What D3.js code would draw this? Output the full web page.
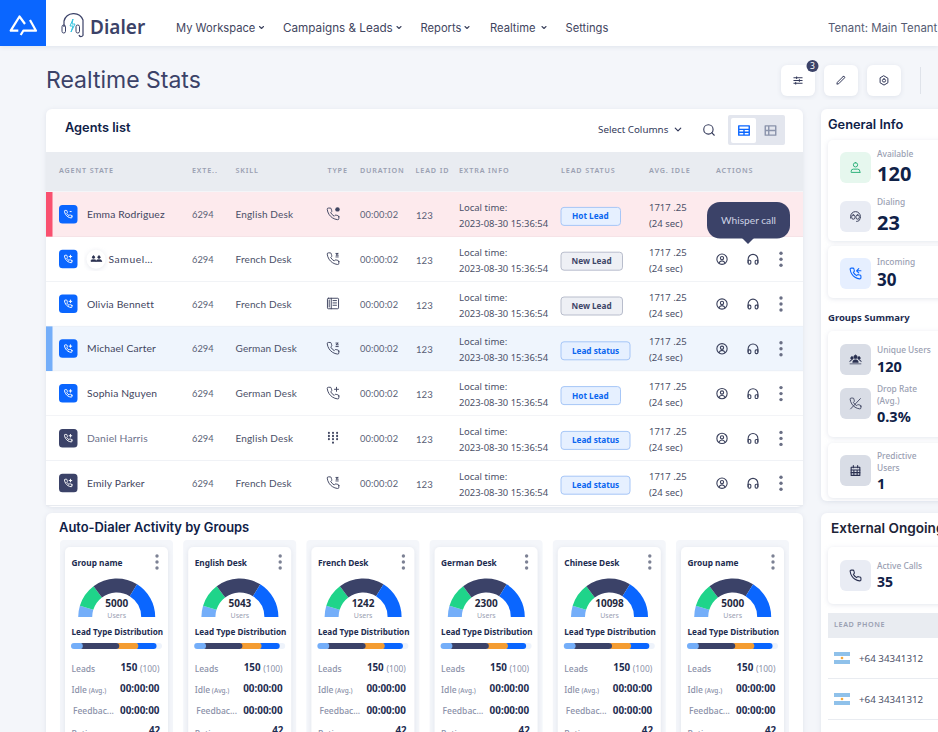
<!DOCTYPE html>
<html>
<head>
<meta charset="utf-8">
<script src="https://cdnjs.cloudflare.com/ajax/libs/d3/7.8.5/d3.min.js"></script>
<style>
body { margin:0; background:#f4f6fa; overflow:hidden; }
svg { display:block; }
</style>
</head>
<body>
<script>
// table data
var agentNames = ["Emma Rodriguez","Samuel…","Olivia Bennett","Michael Carter","Sophia Nguyen","Daniel Harris","Emily Parker"];
var agentExt = ["6294","6294","6294","6294","6294","6294","6294"];
var agentSkills = ["English Desk","French Desk","French Desk","German Desk","German Desk","English Desk","French Desk"];
var agentTypes = ["phoneDot","phoneZ","fax","phoneZ","phonePlus","keypad","phoneZ"];
var durations = ["00:00:02","00:00:02","00:00:02","00:00:02","00:00:02","00:00:02","00:00:02"];
var leadIds = ["123","123","123","123","123","123","123"];
var leadTimes = ["2023-08-30 15:36:54","2023-08-30 15:36:54","2023-08-30 15:36:54","2023-08-30 15:36:54","2023-08-30 15:36:54","2023-08-30 15:36:54","2023-08-30 15:36:54"];
var leadStatus = ["Hot Lead","New Lead","New Lead","Lead status","Hot Lead","Lead status","Lead status"];
var avgIdle = ["1717 .25","1717 .25","1717 .25","1717 .25","1717 .25","1717 .25","1717 .25"];
var avgIdleSec = ["(24 sec)","(24 sec)","(24 sec)","(24 sec)","(24 sec)","(24 sec)","(24 sec)"];

var headerLabels = ["AGENT STATE","EXTE..","SKILL","TYPE","DURATION","LEAD ID","EXTRA INFO","LEAD STATUS","AVG. IDLE","ACTIONS"];
var navLabels = ["My Workspace","Campaigns & Leads","Reports","Realtime","Settings"];

// group cards
var groupNames = ["Group name","English Desk","French Desk","German Desk","Chinese Desk","Group name"];
var groupUsers = [5000,5043,1242,2300,10098,5000];
var gaugeShares = [17,36,69,58];
var leadTypeShares = [13,40,21,20];
var groupLeads = [150,150,150,150,150,150];
var groupLeadsMax = [100,100,100,100,100,100];
var groupIdle = ["00:00:00","00:00:00","00:00:00","00:00:00","00:00:00","00:00:00"];
var groupFeedback = ["00:00:00","00:00:00","00:00:00","00:00:00","00:00:00","00:00:00"];
var groupRatio = [42,42,42,42,42,42];

var navy = "#3b4268", ink = "#0f2147", body = "#3f4560", grey = "#9aa0b2", blue = "#0a66ff";
var headFont = "Inter, sans-serif", nameFont = "Lato, sans-serif", plexFont = "'Noto Sans', sans-serif";

var handset = "M22 16.92v3a2 2 0 0 1-2.18 2 19.79 19.79 0 0 1-8.63-3.07 19.5 19.5 0 0 1-6-6 19.79 19.79 0 0 1-3.07-8.67A2 2 0 0 1 4.11 2h3a2 2 0 0 1 2 1.72 12.84 12.84 0 0 0 .7 2.81 2 2 0 0 1-.45 2.11L8.09 9.91a16 16 0 0 0 6 6l1.27-1.27a2 2 0 0 1 2.11-.45 12.84 12.84 0 0 0 2.81.7A2 2 0 0 1 22 16.92z";
var iconPaths = {
  phone: [handset],
  phonePlus: [handset,"M18 2v7M14.5 5.5h7"],
  phoneZ: [handset,"M17 3h4l-4 3h4M17 9h4"],
  phoneDot: [handset,"M17 5h3"],
  phoneIn: [handset,"M22 7h-7M18 3l-4 4 4 4"],
  phoneSlash: [handset,"M3 22L21 3"],
  fax: ["M4 3h16a1.5 1.5 0 0 1 1.5 1.5v15a1.5 1.5 0 0 1-1.5 1.5H4a1.5 1.5 0 0 1-1.5-1.5v-15A1.5 1.5 0 0 1 4 3z","M9 3v18M5.5 6v12M12 7h6M12 11h6M12 15h6"],
  keypad: ["M5 3v.5M12 3v.5M19 3v.5M5 8.5V9M12 8.5V9M19 8.5V9M5 14v.5M12 14v.5M19 14v.5M12 20v.5"],
  user: ["M12 2.5a9.5 9.5 0 1 0 0 19 9.5 9.5 0 0 0 0-19z","M12 7a3 3 0 1 0 0 6 3 3 0 0 0 0-6z","M6.5 19c1-3 3-4 5.5-4s4.5 1 5.5 4"],
  person: ["M20 21v-2a4 4 0 0 0-4-4H8a4 4 0 0 0-4 4v2H20z","M12 3a4 4 0 1 0 0 8 4 4 0 0 0 0-8z"],
  people: ["M12 4a3.2 3.2 0 1 0 0 6.4 3.2 3.2 0 0 0 0-6.4zM5.5 7a2.4 2.4 0 1 0 0 4.8 2.4 2.4 0 0 0 0-4.8zM18.5 7a2.4 2.4 0 1 0 0 4.8 2.4 2.4 0 0 0 0-4.8z","M7 17c0-3 2-4.5 5-4.5s5 1.5 5 4.5zM1.5 16c0-2.2 1.5-3.3 3.8-3.3M22.5 16c0-2.2-1.5-3.3-3.8-3.3","M2 20h20"],
  calendar: ["M4 6h16v15H4zM8 3v4M16 3v4","M4 11h16M9 11v10M15 11v10M4 16h16"],
  headphones: ["M3 18v-6a9 9 0 0 1 18 0v6","M21 19a2 2 0 0 1-2 2h-1a2 2 0 0 1-2-2v-3a2 2 0 0 1 2-2h3zM3 19a2 2 0 0 0 2 2h1a2 2 0 0 0 2-2v-3a2 2 0 0 0-2-2H3z"],
  headset: ["M3 15v-3a9 9 0 0 1 18 0v3","M8 9a3 3 0 0 0-3 3v2a3 3 0 0 0 6 0v-2A3 3 0 0 0 8 9zM16 9a3 3 0 0 0-3 3v2a3 3 0 0 0 6 0v-2a3 3 0 0 0-3-3z","M20 17c0 2.5-2.5 4-6 4"],
  search: ["M11 3a8 8 0 1 0 0 16 8 8 0 0 0 0-16z","M21 21l-4.35-4.35"],
  sliders: ["M3 6h18M3 12h18M3 18h18","M9 4v4M15 10v4M7 16v4"],
  pencil: ["M16.5 3.5a2.12 2.12 0 0 1 3 3L7 19l-4 1 1-4L16.5 3.5z"],
  gear: ["M12 2l8.5 5v10L12 22l-8.5-5V7z","M12 8.5a3.5 3.5 0 1 0 0 7 3.5 3.5 0 0 0 0-7z"],
  chevron: ["M6 9l6 6 6-6"],
  grid: ["M3 4h18v16H3zM3 10h18M3 15h18M12 10v10"],
  rows: ["M3 4h18v16H3zM3 12h18M9 4v16"]
};

var svg = d3.select("body").append("svg").attr("width",938).attr("height",732);

var defs = svg.append("defs");
var soft = defs.append("filter").attr("id","soft").attr("x","-10%").attr("y","-10%").attr("width","120%").attr("height","120%");
soft.append("feDropShadow").attr("dx",0).attr("dy",1).attr("stdDeviation",2.5).attr("flood-color","#c3cad8").attr("flood-opacity",0.45);

function addText(parent, x, y, str, size, color, weight, font, anchor) {
  return parent.append("text").attr("x",x).attr("y",y).text(str)
    .attr("font-size",size).attr("fill",color)
    .attr("font-weight",weight || 400)
    .attr("font-family",font || plexFont)
    .attr("text-anchor",anchor || "start");
}
function addIcon(parent, name, cx, cy, size, color, width, fill) {
  var k = size/24;
  var g = parent.append("g").attr("transform","translate("+(cx-size/2)+","+(cy-size/2)+") scale("+k+")");
  iconPaths[name].forEach(function(d){
    g.append("path").attr("d",d).attr("fill",fill || "none").attr("stroke",color)
      .attr("stroke-width",(width || 1.1)/k).attr("stroke-linecap","round").attr("stroke-linejoin","round");
  });
  return g;
}
function addBox(parent, x, y, w, h, r, fill, shadow) {
  var b = parent.append("rect").attr("x",x).attr("y",y).attr("width",w).attr("height",h).attr("rx",r).attr("fill",fill);
  if (shadow) b.attr("filter","url(#soft)");
  return b;
}
function addDots(parent, cx, cy, gap, r, color) {
  [-1,0,1].forEach(function(i){
    parent.append("circle").attr("cx",cx).attr("cy",cy+i*gap).attr("r",r).attr("fill",color);
  });
}

/* ---------- top bar ---------- */
addBox(svg,0,0,938,46,0,"#fff",true);
addBox(svg,0,0,46,46,0,blue);
svg.append("path").attr("d","M25 24L19.5 16.5L10.7 30.7H18.3M30 20L36 30.7H23.3L20.7 35")
  .attr("fill","none").attr("stroke","#fff").attr("stroke-width",2.2).attr("stroke-linejoin","round");

var headset = svg.append("g");
headset.append("path").attr("d","M64 27v-6a10 10 0 0 1 19 -1v14a2 2 0 0 1-4 1").attr("fill","none").attr("stroke",navy).attr("stroke-width",1.2);
headset.append("rect").attr("x",62).attr("y",25).attr("width",3.5).attr("height",8).attr("rx",1.7).attr("fill","none").attr("stroke",navy);
headset.append("rect").attr("x",76).attr("y",25).attr("width",3.5).attr("height",8).attr("rx",1.7).attr("fill","none").attr("stroke",navy);
headset.append("path").attr("d","M73 19l-3 7h3l-2 6 4-8h-3z").attr("fill","none").attr("stroke","#35c4e0").attr("stroke-width",1);
addText(svg,90,33.5,"Dialer",19,navy,600,plexFont);

var navX = [176,283,420.5,490,565.5];
var navChevron = [261.5,399,467,544,null];
var navSize = [11.2,11.7,11.2,11.2,11.2];
navLabels.forEach(function(d,i){
  addText(svg,navX[i],31.5,d,navSize[i],body,400,headFont);
  if (navChevron[i]) addIcon(svg,"chevron",navChevron[i],27.5,8,body,1.1);
});
addText(svg,828,31.5,"Tenant: Main Tenant",11.4,"#555b73",400,headFont);

addText(svg,46,88,"Realtime Stats",23,navy,400,headFont);

[[781,"sliders"],[824,"pencil"],[867,"gear"]].forEach(function(b){
  addBox(svg,b[0],65,34,31,6,"#fff",true);
  addIcon(svg,b[1],b[0]+17,80.5,11,"#33395a",1);
});
svg.append("circle").attr("cx",812.5).attr("cy",66).attr("r",6).attr("fill",navy);
addText(svg,812.5,69,"3",8.5,"#fff",400,plexFont,"middle");
svg.append("line").attr("x1",920.5).attr("x2",920.5).attr("y1",67).attr("y2",94).attr("stroke","#dfe3ea");

/* ---------- agents panel ---------- */
addBox(svg,46,109,757,398,6,"#fff",true);
addText(svg,65,132,"Agents list",12.8,ink,600,headFont);
addText(svg,598,133,"Select Columns",9.8,"#33395a",400,plexFont);
addIcon(svg,"chevron",678,129.5,11,"#33395a",1.2);
addIcon(svg,"search",709,130,14,"#33395a",1.1);
addBox(svg,728,115,57,30,2,"#e3e6ee");
addBox(svg,731,118,25,25,2,"#fff");
addIcon(svg,"grid",744,130.5,14,blue,1.4);
addIcon(svg,"rows",770.5,130.5,14,"#8a93ab",1.4);

svg.append("rect").attr("x",46).attr("y",152).attr("width",757).attr("height",39.5).attr("fill","#e9ecf1");
var headerX = [59,192,235.5,327.5,360,415.5,459,561,649,716];
headerLabels.forEach(function(d,i){
  addText(svg,headerX[i],172.5,d,7.2,grey,600,plexFont).attr("letter-spacing",0.85);
});

var rowY = d3.scaleLinear().domain([0,6]).range([214.4,483.2]);
var rowH = 44.8;
var rowFill = {0:"#fdeaed",3:"#eff5fd"};
var rowBar = {0:"#f9506f",3:"#74aef9"};

function badgeStyle(s) {
  if (s == "New Lead") return {fill:"#eef0f5",stroke:"#b8bdcc",text:"#3e4668",w:61.5};
  if (s == "Hot Lead") return {fill:"#e6f0ff",stroke:"#a6c6f7",text:"#0a66f0",w:59.5};
  return {fill:"#e6f0ff",stroke:"#a6c6f7",text:"#0a66f0",w:69};
}

var rows = svg.selectAll("g.row").data(agentNames).enter().append("g").attr("class","row")
  .attr("transform",function(d,i){ return "translate(0,"+rowY(i)+")"; });

rows.each(function(d,i){
  var g = d3.select(this);
  g.append("rect").attr("x",46).attr("y",-rowH/2).attr("width",757).attr("height",rowH).attr("fill",rowFill[i] || "#fff");
  g.append("line").attr("x1",46).attr("x2",803).attr("y1",rowH/2).attr("y2",rowH/2)
    .attr("stroke",i==0 ? "#f0d4da" : "#e6e9ef").attr("stroke-width",1);
  if (rowBar[i]) g.append("rect").attr("x",46).attr("y",-rowH/2).attr("width",6.5).attr("height",rowH).attr("fill",rowBar[i]);

  addBox(g,59,-9.5,18.5,18.5,3.5,i>=5 ? navy : blue);
  addIcon(g,i==0 ? "phoneDot" : "phonePlus",68.2,-0.2,9,"#fff",1);

  var nameX = 87, nameColor = i==5 ? "#6b7089" : body;
  if (i==1) {
    g.append("circle").attr("cx",96).attr("cy",0).attr("r",9.5).attr("fill","#fff").attr("filter","url(#soft)");
    addIcon(g,"person",93.5,-0.5,7.5,"#2a3050",0.6,"#2a3050");
    addIcon(g,"person",99,-0.5,7.5,"#2a3050",0.6,"#2a3050");
    nameX = 108.5;
  }
  addText(g,nameX,3.6,d,10.3,nameColor,400,nameFont).attr("letter-spacing",i==1 ? 0.6 : 0.15);
  addText(g,192,3.5,agentExt[i],9.3,"#5a5f76",400,nameFont);
  addText(g,235.5,3.5,agentSkills[i],10,"#4b5068",400,nameFont).attr("letter-spacing",0.15);
  addIcon(g,agentTypes[i],333,-0.5,14,"#3f4560",agentTypes[i]=="keypad" ? 2 : 0.95);
  if (i==0) g.append("circle").attr("cx",337.5).attr("cy",-5).attr("r",2.2).attr("fill","#3f4560");
  addText(g,360,3.5,durations[i],9.3,"#5a5f76",400,nameFont).attr("letter-spacing",0.15);
  addText(g,416,4.5,leadIds[i],9.6,"#5a5f76",400,nameFont);
  addText(g,459,-3.5,"Local time:",9.5,"#4b5068",400,plexFont);
  addText(g,459,12.5,leadTimes[i],9.45,"#4b5068",400,plexFont);

  var st = badgeStyle(leadStatus[i]);
  g.append("rect").attr("x",561).attr("y",-7).attr("width",st.w).attr("height",18).attr("rx",3)
    .attr("fill",st.fill).attr("stroke",st.stroke).attr("stroke-width",1);
  addText(g,st.w==61.5 ? 571.5 : 572,5,leadStatus[i],8.2,st.text,700,plexFont);

  addText(g,649,-3.5,avgIdle[i],9.5,"#4b5068",400,plexFont);
  addText(g,649,12.5,avgIdleSec[i],9.5,"#4b5068",400,plexFont);

  if (i>0) {
    addIcon(g,"user",722,0,13,"#3a405c",1.1);
    addIcon(g,"headphones",753,0,13,"#3a405c",1.1);
    addDots(g,781,0,6,1.7,"#6a6f85");
  }
});

// whisper tooltip sits above the rows
svg.append("path").attr("d","M742 238h12l-6 6z").attr("fill",navy);
addBox(svg,707,202,83,36.5,13,navy);
addText(svg,748.5,223.5,"Whisper call",10.2,"#cdd2e4",400,nameFont,"middle");

/* ---------- group cards ---------- */
addBox(svg,46,513,757,240,6,"#fff",true);
addText(svg,59,531.5,"Auto-Dialer Activity by Groups",12.9,ink,600,headFont);

var cardX = d3.scaleBand().domain(d3.range(groupNames.length)).range([65,65+6*123.2]);
var cardW = 103;

var gaugePie = d3.pie().sort(null).value(function(d){return d;}).startAngle(-Math.PI/2).endAngle(Math.PI/2);
var gaugeArc = d3.arc().innerRadius(24.5).outerRadius(38.5);
var gaugeColors = ["#74aef9","#1fd48a",navy,blue];

var barX = d3.scaleLinear().domain([0,100]).range([6,97]);
var stacked = d3.stack().keys(d3.range(leadTypeShares.length))([leadTypeShares.reduce(function(o,v,i){o[i]=v;return o;},{})]);
var barColors = ["#74aef9",navy,"#f49c31",blue];

var cards = svg.selectAll("g.card").data(groupNames).enter().append("g").attr("class","card")
  .attr("transform",function(d,i){ return "translate("+cardX(i)+",0)"; });

cards.each(function(d,i){
  var g = d3.select(this);
  addBox(g,-5,540,cardW+10,200,4,"#f4f6fa");
  addBox(g,0,547,cardW,200,5,"#fff",true);
  addText(g,6.5,566,d,8.3,"#1d2c50",700,plexFont);
  addDots(g,92,562,6,1.7,"#7c8194");

  var gauge = g.append("g").attr("transform","translate(51.7,617)");
  gauge.selectAll("path").data(gaugePie(gaugeShares)).enter().append("path")
    .attr("d",gaugeArc).attr("fill",function(s,k){return gaugeColors[k];});
  addText(g,51.7,606.5,groupUsers[i],10,"#1f2940",700,plexFont,"middle");
  addText(g,51.7,617.5,"Users",7,grey,400,plexFont,"middle");

  addText(g,6.5,635,"Lead Type Distribution",8.15,"#1d2c50",700,plexFont);
  addBox(g,barX(0),643,barX(100)-barX(0),6,3,"#eef3fb");
  // last to first, each one runs under the rounded end of the one before it
  for (var k=stacked.length-1;k>=0;k--) {
    var x0 = barX(stacked[k][0][0]), x1 = barX(stacked[k][0][1]);
    addBox(g,k==0 ? x0 : x0-3,643,k==0 ? x1-x0 : x1-x0+3,6,3,barColors[k]);
  }

  addText(g,6.5,672,"Leads",8.5,"#8a90a8",500,plexFont);
  addText(g,55.5,671,groupLeads[i],9.8,"#1d2c50",700,plexFont);
  addText(g,75,672,"("+groupLeadsMax[i]+")",8.4,"#8a90a8",400,plexFont);
  var idle = addText(g,6.5,693,"Idle",8.5,"#8a90a8",500,plexFont);
  idle.append("tspan").attr("font-size",6.5).text(" (Avg.)");
  addText(g,55,692,groupIdle[i],9.9,"#1d2c50",700,plexFont);
  addText(g,8,714,"Feedbac...",8.5,"#8a90a8",500,plexFont);
  addText(g,55,713.5,groupFeedback[i],9.9,"#1d2c50",700,plexFont);
  addText(g,6.5,737,"Ratio",8.5,"#8a90a8",500,plexFont);
  addText(g,84,734,groupRatio[i],9.8,"#1d2c50",700,plexFont);
});

/* ---------- right column ---------- */
addBox(svg,821,109,140,392,6,"#fff",true);
addText(svg,828,129,"General Info",12.8,ink,600,headFont);

function statCard(y,h) { addBox(svg,828,y,130,h,5,"#fff",true); }
function tile(y,fill,iconName,color,width,filled) {
  addBox(svg,840,y,31,31,6,fill);
  addIcon(svg,iconName,855.5,y+15.5,13,color,width || 1.1,filled);
}
function stat(label,y,size,valueY,value) {
  addText(svg,877,y,label,8.4,grey,500,plexFont);
  addText(svg,877,valueY,value,size,ink,700,plexFont);
}

statCard(140,101);
tile(152,"#e6f7ee","person","#2fb27c",1);
stat("Available",157,20,181,"120");
tile(201,"#e9ecf4","headset","#3a405c",1);
stat("Dialing",205,20,230,"23");

statCard(246,52);
tile(258,"#e6efff","phoneIn",blue,1.1);
stat("Incoming",265,17,286,"30");

addText(svg,828,321,"Groups Summary",9.5,"#1d2c50",700,plexFont);

statCard(331,106);
tile(344,"#d9dde6","people","#2a3050",0.7,"#2a3050");
stat("Unique Users",353,14.5,372,"120");
tile(388,"#d9dde6","phoneSlash","#3a405c",0.9);
addText(svg,877,392,"Drop Rate",8.4,grey,500,plexFont);
stat("(Avg.)",404,14.5,422,"0.3%");

statCard(443,55);
tile(455,"#d9dde6","calendar","#2a3050",1.1);
addText(svg,877,459,"Predictive",8.4,grey,500,plexFont);
stat("Users",471,14.5,489,"1");

addBox(svg,821,513,140,240,6,"#fff",true);
addText(svg,831,533,"External Ongoing",13.6,"#1d2437",600,headFont);
statCard(547,57);
tile(560,"#e9ecf4","phone","#2a3050",1.1);
stat("Active Calls",569,14,587,"35");

svg.append("rect").attr("x",828).attr("y",613).attr("width",110).attr("height",25).attr("fill","#e9ecf1");
addText(svg,834,627,"LEAD PHONE",7.2,grey,600,plexFont).attr("letter-spacing",0.6);

var phones = ["+64 34341312","+64 34341312"];
var phoneY = d3.scaleLinear().domain([0,1]).range([658,699]);
phones.forEach(function(p,i){
  var y = phoneY(i);
  var flag = svg.append("g").attr("transform","translate(834,"+(y-6)+")");
  flag.append("rect").attr("width",16).attr("height",12).attr("fill","#fff");
  flag.append("rect").attr("width",16).attr("height",4).attr("fill","#8fc1ea");
  flag.append("rect").attr("y",8).attr("width",16).attr("height",4).attr("fill","#8fc1ea");
  flag.append("circle").attr("cx",8).attr("cy",6).attr("r",1.3).attr("fill","#f2a73b");
  addText(svg,859,y+4,p,9.8,"#4b5068",400,plexFont);
  svg.append("line").attr("x1",828).attr("x2",938).attr("y1",y+20.5).attr("y2",y+20.5).attr("stroke","#e9ecf1");
});
</script>
</body>
</html>
